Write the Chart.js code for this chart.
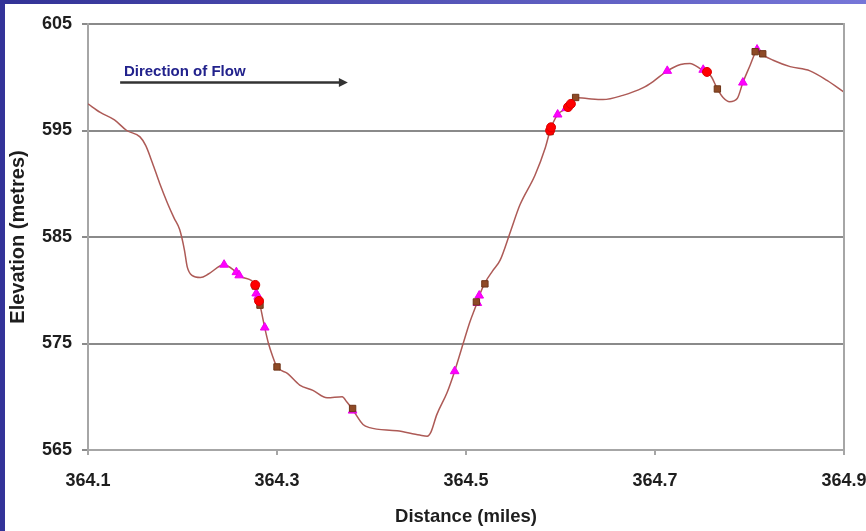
<!DOCTYPE html>
<html>
<head>
<meta charset="utf-8">
<title>Elevation profile</title>
<script src="https://cdn.jsdelivr.net/npm/chart.js@4/dist/chart.umd.min.js"></script>
<style>
  html, body { margin: 0; padding: 0; background: #ffffff; }
  canvas { display: block; }
</style>
</head>
<body>
<canvas id="profile" width="866" height="531"></canvas>
<script>
// River bed profile: distance along the channel (miles) and bed elevation (m)
const distance = [
  364.100, 364.113, 364.128, 364.141, 364.155, 364.161, 364.168, 364.176, 364.184, 364.191,
  364.197, 364.202, 364.205, 364.210, 364.219, 364.227, 364.240, 364.244, 364.257, 364.264,
  364.277, 364.279, 364.281, 364.282, 364.287, 364.291, 364.295, 364.300, 364.311, 364.324,
  364.338, 364.353, 364.369, 364.374, 364.380, 364.391, 364.398, 364.427, 364.451, 364.459,
  364.463, 364.469, 364.480, 364.488, 364.497, 364.504, 364.512, 364.515, 364.520, 364.528,
  364.536, 364.547, 364.557, 364.573, 364.584, 364.589, 364.592, 364.597, 364.608, 364.615,
  364.628, 364.645, 364.666, 364.687, 364.698, 364.713, 364.727, 364.737, 364.750, 364.755,
  364.760, 364.766, 364.772, 364.779, 364.787, 364.793, 364.801, 364.806, 364.808, 364.814,
  364.825, 364.843, 364.864, 364.882, 364.900
];
const elevation = [
  597.5, 596.7, 596.0, 595.0, 594.4, 593.6, 592.0, 590.0, 588.2, 586.8,
  585.7, 583.8, 582.2, 581.4, 581.2, 581.5, 582.3, 582.4, 581.7, 581.2,
  580.5, 579.7, 578.9, 578.6, 576.5, 575.0, 573.9, 572.8, 572.2, 571.1,
  570.6, 569.9, 570.0, 569.5, 568.8, 567.4, 567.1, 566.8, 566.4, 566.3,
  566.7, 568.3, 570.4, 572.4, 575.0, 577.0, 578.9, 579.7, 580.7, 581.8,
  582.8, 585.5, 588.0, 590.8, 593.4, 595.0, 595.7, 596.5, 597.2, 598.1,
  598.0, 597.9, 598.3, 599.0, 599.6, 600.6, 601.2, 601.3, 600.7, 600.5,
  600.0, 598.9, 598.1, 597.7, 598.0, 599.5, 601.2, 602.3, 602.6, 602.1,
  601.6, 601.0, 600.6, 599.7, 598.6
];

// Survey points of the three sample types
const triangleDist = [364.244, 364.257, 364.260, 364.278, 364.280, 364.287, 364.380, 364.488,
                      364.512, 364.514, 364.597, 364.606, 364.713, 364.751, 364.793, 364.808];
const triangleElev = [582.4, 581.7, 581.4, 579.7, 579.4, 576.5, 568.7, 572.4,
                      578.8, 579.5, 596.5, 597.1, 600.6, 600.7, 599.5, 602.6];

const redDist = [364.277, 364.281, 364.589, 364.590, 364.608, 364.611, 364.755];
const redElev = [580.5, 579.0, 595.0, 595.3, 597.2, 597.5, 600.5];

const brownDist = [364.277, 364.282, 364.300, 364.380, 364.511, 364.520, 364.589,
                   364.616, 364.766, 364.806, 364.814];
const brownElev = [580.4, 578.6, 572.8, 568.9, 578.9, 580.6, 594.9,
                   598.1, 598.9, 602.4, 602.2];

const xTicks = [364.1, 364.3, 364.5, 364.7, 364.9];
const yTicks = [565, 575, 585, 595, 605];

const toPoints = (xs, ys) => xs.map((x, i) => ({ x: x, y: ys[i] }));

const FONT = "'Liberation Sans', Arial, sans-serif";
const GRID = '#8a8a8a';
const AXIS = '#a6a6a6';

// Slide frame: dark blue left edge and gradient top edge
const framePlugin = {
  id: 'frame',
  beforeDraw(chart) {
    const { ctx, width, height } = chart;
    ctx.save();
    ctx.fillStyle = '#ffffff';
    ctx.fillRect(0, 0, width, height);
    const g = ctx.createLinearGradient(0, 0, width, 0);
    g.addColorStop(0, '#323296');
    g.addColorStop(1, '#7676d8');
    ctx.fillStyle = g;
    ctx.fillRect(0, 0, width, 4);
    ctx.fillStyle = '#333399';
    ctx.fillRect(0, 0, 5, height);
    ctx.restore();
  }
};

// Right edge of the plot area
const plotBorderPlugin = {
  id: 'plotBorder',
  afterDraw(chart) {
    const { ctx, chartArea } = chart;
    ctx.save();
    ctx.strokeStyle = AXIS;
    ctx.lineWidth = 2;
    ctx.beginPath();
    ctx.moveTo(chartArea.right, chartArea.top - 1);
    ctx.lineTo(chartArea.right, chartArea.bottom + 1);
    ctx.stroke();
    ctx.restore();
  }
};

// "Direction of Flow" note with its arrow
const flowNotePlugin = {
  id: 'flowNote',
  afterDraw(chart) {
    const { ctx } = chart;
    const xs = chart.scales.x, ys = chart.scales.y;
    ctx.save();
    ctx.font = `bold 15px ${FONT}`;
    ctx.fillStyle = '#22228c';
    ctx.textBaseline = 'middle';
    ctx.textAlign = 'left';
    ctx.fillText('Direction of Flow', xs.getPixelForValue(364.138), ys.getPixelForValue(600.5));

    const x0 = xs.getPixelForValue(364.134);
    const x1 = xs.getPixelForValue(364.375);
    const y = ys.getPixelForValue(599.5);
    ctx.strokeStyle = '#333333';
    ctx.fillStyle = '#333333';
    ctx.lineWidth = 2.5;
    ctx.beginPath();
    ctx.moveTo(x0, y);
    ctx.lineTo(x1 - 7, y);
    ctx.stroke();
    ctx.beginPath();
    ctx.moveTo(x1, y);
    ctx.lineTo(x1 - 9, y - 4.5);
    ctx.lineTo(x1 - 9, y + 4.5);
    ctx.closePath();
    ctx.fill();
    ctx.restore();
  }
};

new Chart(document.getElementById('profile'), {
  type: 'scatter',
  data: {
    datasets: [
      {
        label: 'Bed profile',
        data: toPoints(distance, elevation),
        showLine: true,
        borderColor: '#ad5a56',
        borderWidth: 1.5,
        pointRadius: 0,
        cubicInterpolationMode: 'monotone',
        order: 4
      },
      {
        label: 'Samples A',
        data: toPoints(triangleDist, triangleElev),
        pointStyle: 'triangle',
        pointRadius: 5,
        backgroundColor: '#ff00ff',
        borderColor: '#ee00ee',
        borderWidth: 1,
        order: 3
      },
      {
        label: 'Samples B',
        data: toPoints(brownDist, brownElev),
        pointStyle: 'rect',
        pointRadius: 4.5,
        backgroundColor: '#8e4a26',
        borderColor: '#6e3518',
        borderWidth: 1,
        order: 2
      },
      {
        label: 'Samples C',
        data: toPoints(redDist, redElev),
        pointStyle: 'circle',
        pointRadius: 4.5,
        backgroundColor: '#ff0000',
        borderColor: '#dd0000',
        borderWidth: 1,
        order: 1
      }
    ]
  },
  options: {
    responsive: false,
    animation: false,
    events: [],
    layout: { padding: { left: 0, top: 24, right: 22, bottom: 0 } },
    plugins: {
      legend: { display: false },
      tooltip: { enabled: false }
    },
    scales: {
      x: {
        type: 'linear',
        min: 364.1,
        max: 364.9,
        afterBuildTicks(scale) { scale.ticks = xTicks.map(v => ({ value: v })); },
        afterFit(scale) {
          scale.height = 81;
          scale.paddingLeft = 0;
          scale.paddingRight = 0;
        },
        ticks: {
          callback: v => v.toFixed(1),
          autoSkip: false,
          maxRotation: 0,
          padding: 15,
          color: '#1e1e1e',
          font: { family: FONT, size: 18, weight: 'bold' }
        },
        grid: {
          drawOnChartArea: false,
          drawTicks: true,
          tickLength: 5,
          color: AXIS,
          lineWidth: 2
        },
        border: { display: true, color: AXIS, width: 2 },
        title: {
          display: true,
          text: 'Distance (miles)',
          color: '#1e1e1e',
          font: { family: FONT, size: 18.5, weight: 'bold' },
          padding: { top: 0, bottom: 3 }
        }
      },
      y: {
        type: 'linear',
        min: 565,
        max: 605,
        afterBuildTicks(scale) { scale.ticks = yTicks.map(v => ({ value: v })); },
        afterFit(scale) {
          scale.width = 88;
          scale.paddingTop = 0;
          scale.paddingBottom = 0;
        },
        ticks: {
          padding: 10,
          color: '#1e1e1e',
          font: { family: FONT, size: 18, weight: 'bold' }
        },
        grid: {
          color: GRID,
          lineWidth: 2,
          drawTicks: true,
          tickLength: 6
        },
        border: { display: true, color: AXIS, width: 2 },
        title: {
          display: true,
          text: 'Elevation (metres)',
          color: '#1e1e1e',
          font: { family: FONT, size: 20, weight: 'bold' },
          padding: { top: 6, bottom: 0 }
        }
      }
    }
  },
  plugins: [framePlugin, plotBorderPlugin, flowNotePlugin]
});
</script>
</body>
</html>
